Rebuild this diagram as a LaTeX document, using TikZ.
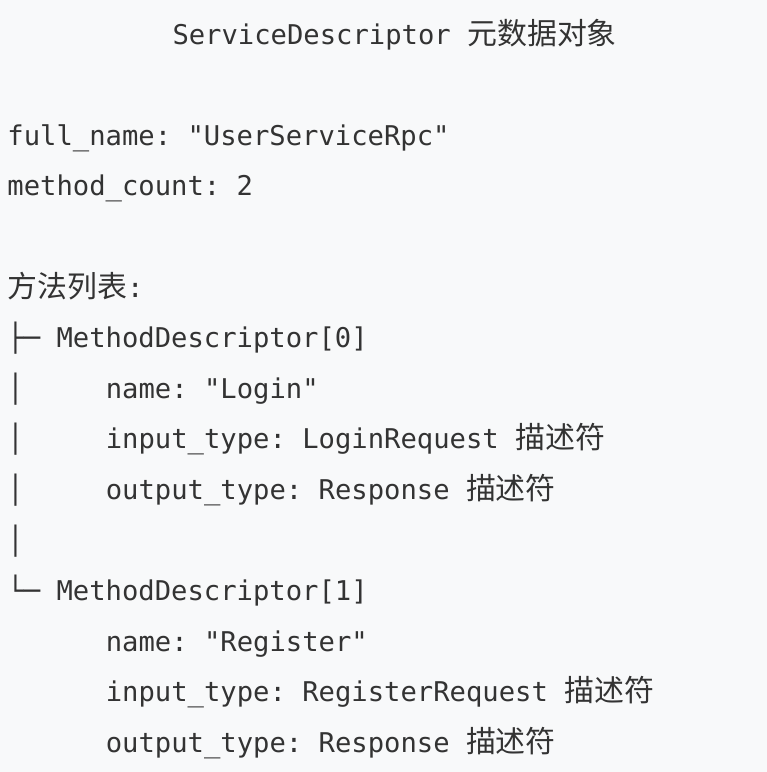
\documentclass[tikz,border=0pt]{standalone}
\usepackage{fontspec}
\setmonofont{DejaVu Sans Mono}
\newfontfamily\cjkfont[Scale=1.1]{Noto Sans CJK SC}
\newcommand{\cj}[1]{{\cjkfont #1}}
\definecolor{bgc}{HTML}{F8F9FA}
\definecolor{txt}{HTML}{333333}
\begin{document}
\begin{tikzpicture}[x=0.75pt,y=-0.75pt,
  line/.style={inner sep=0pt,outer sep=0pt,anchor=base west,text=txt,
    font=\ttfamily\fontsize{20.4}{24}\selectfont}]
\fill[bgc] (0,0) rectangle (767,772);
\useasboundingbox (0,0) rectangle (767,772);
% columns: x0 = 7.5, one column = 16.38px
\node[line] (title) at (172.5,44) {ServiceDescriptor \cj{元数据对象}};
\node[line] (fullname) at (7.5,145.2) {full\_name: "UserServiceRpc"};
\node[line] (mcount) at (7.5,195.8) {method\_count: 2};
\node[line] (mlist) at (7.5,297) {\cj{方法列表}:};
% first method
\node[line] (t0) at (7.5,347.6) {├─};
\node[line] (md0) at (56.6,347.6) {MethodDescriptor[0]};
\node[line] (b0a) at (7.5,398.2) {│};
\node[line] (n0) at (105.8,398.2) {name: "Login"};
\node[line] (b0b) at (7.5,448.8) {│};
\node[line] (i0) at (105.8,448.8) {input\_type: LoginRequest \cj{描述符}};
\node[line] (b0c) at (7.5,499.4) {│};
\node[line] (o0) at (105.8,499.4) {output\_type: Response \cj{描述符}};
\node[line] (b0d) at (7.5,550) {│};
% second method
\node[line] (t1) at (7.5,600.6) {└─};
\node[line] (md1) at (56.6,600.6) {MethodDescriptor[1]};
\node[line] (n1) at (105.8,651.2) {name: "Register"};
\node[line] (i1) at (105.8,701.8) {input\_type: RegisterRequest \cj{描述符}};
\node[line] (o1) at (105.8,752.4) {output\_type: Response \cj{描述符}};
\end{tikzpicture}
\end{document}
